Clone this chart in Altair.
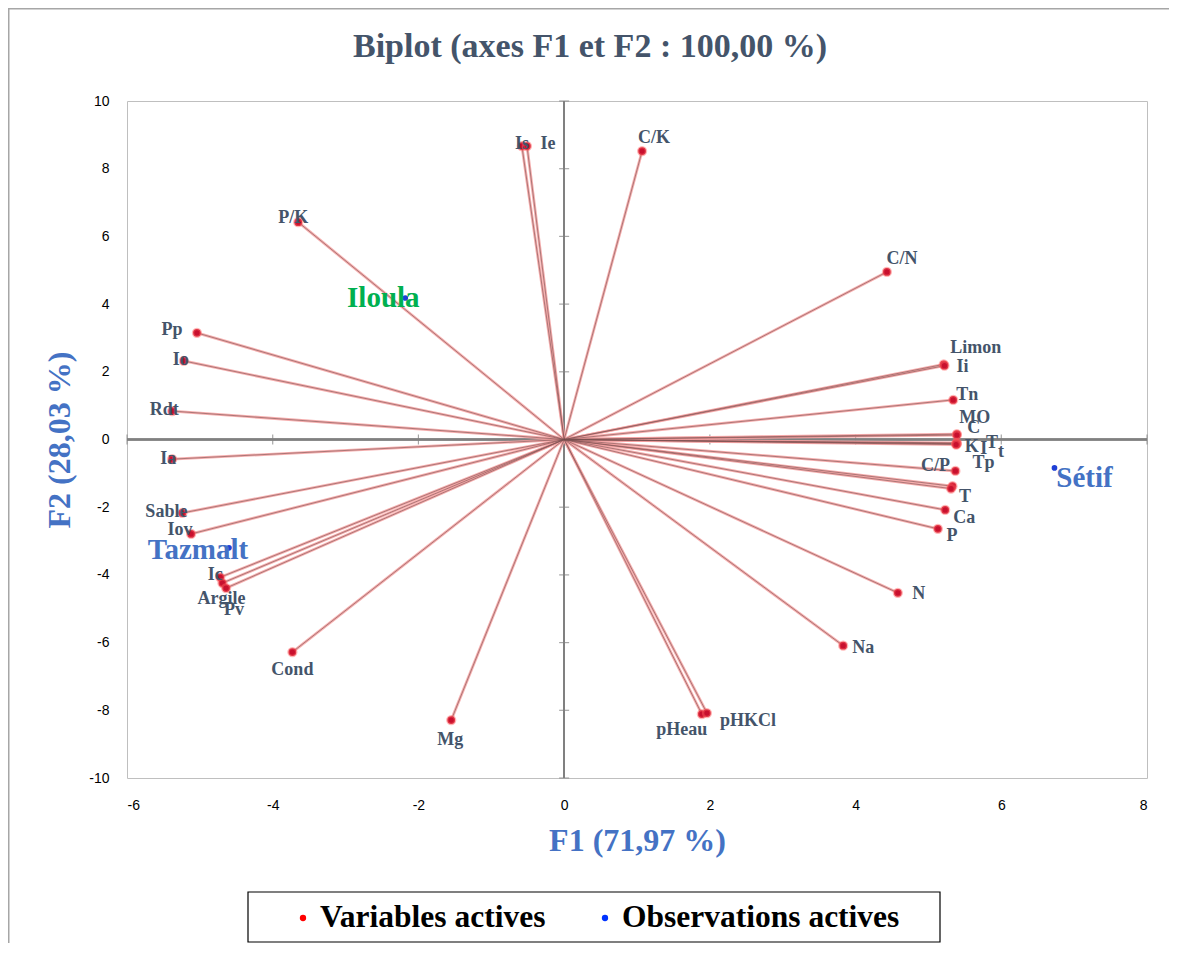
import altair as alt
import pandas as pd

# ---- data ----
var_names = ["Is", "Ie", "C/K", "P/K", "C/N", "Limon", "Ii", "Tn", "MO", "C",
             "K", "I", "T", "t", "Tp", "C/P", "T", "Ca", "P", "N", "Na",
             "pHeau", "pHKCl", "Mg", "Cond", "Ic", "Argile", "Pv", "Iov",
             "Sable", "Ia", "Rdt", "Io", "Pp"]
var_f1 = [-0.58, -0.51, 1.07, -3.65, 4.43, 5.21, 5.22, 5.34, 5.39, 5.39,
          5.39, 5.39, 5.38, 5.38, 5.33, 5.37, 5.31, 5.23, 5.13, 4.58, 3.83,
          1.89, 1.96, -1.55, -3.73, -4.72, -4.69, -4.64, -5.12,
          -5.24, -5.38, -5.38, -5.22, -5.04]
var_f2 = [8.67, 8.67, 8.52, 6.42, 4.95, 2.22, 2.18, 1.17, 0.16, 0.13,
          -0.10, -0.13, -0.12, -0.15, -1.38, -0.93, -1.45, -2.08, -2.64, -4.53, -6.09,
          -8.11, -8.08, -8.29, -6.28, -4.07, -4.24, -4.39, -2.79,
          -2.17, -0.58, 0.84, 2.32, 3.15]

obs_names = ["Sétif", "Iloula", "Tazmalt"]
obs_f1 = [6.73, -2.18, -4.60]
obs_f2 = [-0.84, 4.18, -3.20]
obs_colors = ["#4472C4", "#00B050", "#4472C4"]

x_ticks = [-6, -4, -2, 0, 2, 4, 6, 8]
y_ticks = [-10, -8, -6, -4, -2, 0, 2, 4, 6, 8, 10]

title_text = "Biplot (axes F1 et F2 : 100,00 %)"
legend_labels = ["Variables actives", "Observations actives"]

# label offsets (pixels) from each point, as placed in the picture
var_dx = [0, 21, 12, -5, 15, 32, 18, 14, 18, 17, 15, 27, 36, 45, 31, -20, 14, 19, 14,
          21, 20, -20, 41, -1, 0, -5, -1, 8, -11, -16, -4, -8, -3, -25]
var_dy = [-2, -2, -13, -4, -13, -16, 1, -5, -16, -7, 4, 5, -1, 7, -23, -5, 8, 8, 7,
          1, 2, 16, 8, 20, 18, -2, 16, 22, -4, -1, 0, -1, -1, -3]
obs_dx = [30, -22, -31]
obs_dy = [10, 0, 2]

W, H = 1020, 677
XMIN, XMAX, YMIN, YMAX = -6, 8, -10, 10
PX = W / (XMAX - XMIN)
PY = H / (YMAX - YMIN)

vars_df = pd.DataFrame({"name": var_names, "F1": var_f1, "F2": var_f2,
                        "dx": var_dx, "dy": var_dy})
vars_df["o"] = 0.0
vars_df["lx"] = vars_df["F1"] + vars_df["dx"] / PX
vars_df["ly"] = vars_df["F2"] - vars_df["dy"] / PY

obs_df = pd.DataFrame({"name": obs_names, "F1": obs_f1, "F2": obs_f2,
                       "col": obs_colors, "dx": obs_dx, "dy": obs_dy})
obs_df["lx"] = obs_df["F1"] + obs_df["dx"] / PX
obs_df["ly"] = obs_df["F2"] - obs_df["dy"] / PY

xt_df = pd.DataFrame({"v": x_ticks, "z": 0})
yt_df = pd.DataFrame({"v": y_ticks, "z": 0})

serif = "Liberation Serif"
label_col = "#44546A"

xs = alt.Scale(domain=[XMIN, XMAX], nice=False, zero=False)
ys = alt.Scale(domain=[YMIN, YMAX], nice=False, zero=False)

xaxis = alt.Axis(values=x_ticks, title="F1 (71,97 %)", grid=False, domain=False,
                 ticks=False, labelPadding=20, labelFont="Liberation Sans",
                 labelFontSize=14, labelColor="#000000", labelExpr="'' + datum.value",
                 titleFont=serif, titleFontSize=32, titleFontWeight="bold",
                 titleColor="#4472C4", titlePadding=13)
yaxis = alt.Axis(values=y_ticks, title="F2 (28,03 %)", grid=False, domain=False,
                 ticks=False, labelPadding=18, labelFont="Liberation Sans",
                 labelFontSize=14, labelColor="#000000", labelExpr="'' + datum.value",
                 titleFont=serif, titleFontSize=32, titleFontWeight="bold",
                 titleColor="#4472C4", titlePadding=12)

base_vars = alt.Chart(vars_df)

# zero lines
zero_x = alt.Chart(xt_df).mark_rule(color="#808080", strokeWidth=1.5).encode(
    y=alt.datum(0, scale=ys), x=alt.value(0), x2=alt.value(W))
zero_y = alt.Chart(xt_df).mark_rule(color="#808080", strokeWidth=1.5).encode(
    x=alt.datum(0, scale=xs), y=alt.value(0), y2=alt.value(H))

xticks_m = alt.Chart(xt_df).mark_tick(color="#808080", size=10, thickness=1.2,
                                      orient="vertical").encode(
    x=alt.X("v:Q", scale=xs, axis=xaxis), y=alt.Y("z:Q", scale=ys, axis=yaxis))
yticks_m = alt.Chart(yt_df).mark_tick(color="#808080", size=10, thickness=1.2,
                                      orient="horizontal").encode(
    x=alt.X("z:Q", scale=xs), y=alt.Y("v:Q", scale=ys))

# vectors
vec_glow = base_vars.mark_rule(color="#f4a0a0", strokeWidth=2.8, opacity=0.85).encode(
    x=alt.X("o:Q", scale=xs), y=alt.Y("o:Q", scale=ys),
    x2="F1:Q", y2="F2:Q")
vec_core = base_vars.mark_rule(color="#7a5050", strokeWidth=0.7, opacity=0.85).encode(
    x=alt.X("o:Q", scale=xs), y=alt.Y("o:Q", scale=ys),
    x2="F1:Q", y2="F2:Q")

var_pts = base_vars.mark_circle(size=60, color="#C8102E", opacity=1,
                                stroke="#ff6060", strokeWidth=2.5, strokeOpacity=0.45).encode(
    x=alt.X("F1:Q", scale=xs), y=alt.Y("F2:Q", scale=ys))

var_lbl = base_vars.mark_text(font=serif, fontSize=18, fontWeight="bold",
                              color=label_col, align="center", baseline="middle").encode(
    x=alt.X("lx:Q", scale=xs), y=alt.Y("ly:Q", scale=ys), text="name:N")

obs_pts = alt.Chart(obs_df).mark_circle(size=32, color="#1f3fd6", opacity=1).encode(
    x=alt.X("F1:Q", scale=xs), y=alt.Y("F2:Q", scale=ys))

obs_lbl = alt.Chart(obs_df).mark_text(font=serif, fontSize=29, fontWeight="bold",
                                      align="center", baseline="middle").encode(
    x=alt.X("lx:Q", scale=xs), y=alt.Y("ly:Q", scale=ys), text="name:N",
    color=alt.Color("col:N", scale=None, legend=None))

# title as a text mark (layout decoration)
ttl_df = pd.DataFrame({"t": [title_text]})
ttl = alt.Chart(ttl_df).mark_text(font=serif, fontSize=34, fontWeight="bold",
                                  color=label_col, align="center",
                                  baseline="middle").encode(
    x=alt.value(463), y=alt.value(-54), text="t:N")

# manual legend box (layout decoration)
leg_df = pd.DataFrame({"t": legend_labels})
leg_box = alt.Chart(leg_df.head(1)).mark_rect(fill="white", stroke="#000000",
                                               strokeWidth=1.2).encode(
    x=alt.value(121), x2=alt.value(813), y=alt.value(791), y2=alt.value(841))
leg_dot1 = alt.Chart(leg_df.head(1)).mark_circle(size=40, color="#FF0000", opacity=1).encode(
    x=alt.value(176), y=alt.value(817))
leg_dot2 = alt.Chart(leg_df.tail(1)).mark_circle(size=40, color="#0033FF", opacity=1).encode(
    x=alt.value(478), y=alt.value(817))
leg_txt1 = alt.Chart(leg_df.head(1)).mark_text(font=serif, fontSize=31.5, fontWeight="bold",
                                               color="#000000", align="left",
                                               baseline="middle").encode(
    x=alt.value(193), y=alt.value(817), text="t:N")
leg_txt2 = alt.Chart(leg_df.tail(1)).mark_text(font=serif, fontSize=31.5, fontWeight="bold",
                                               color="#000000", align="left",
                                               baseline="middle").encode(
    x=alt.value(495), y=alt.value(817), text="t:N")

# outer frame lines (top and left edges of the picture)
frame_left = alt.Chart(leg_df.head(1)).mark_rule(color="#a6a6a6", strokeWidth=3).encode(
    x=alt.value(-119), y=alt.value(-93), y2=alt.value(H + 200))
frame_top = alt.Chart(leg_df.head(1)).mark_rule(color="#a6a6a6", strokeWidth=3).encode(
    y=alt.value(-93), x=alt.value(-119), x2=alt.value(W + 60))

chart = alt.layer(
    xticks_m, yticks_m, zero_x, zero_y, vec_glow, vec_core, var_pts, obs_pts,
    var_lbl, obs_lbl, ttl, leg_box, leg_dot1, leg_dot2, leg_txt1, leg_txt2,
    frame_left, frame_top
).properties(
    width=W, height=H,
    autosize=alt.AutoSizeParams(type="none"),
    padding={"left": 119, "top": 93, "right": 22, "bottom": 165},
    background="white",
).configure_view(stroke="#bfbfbf", strokeWidth=1)

chart.save("out.html", embed_options={"renderer": "svg", "actions": False})
